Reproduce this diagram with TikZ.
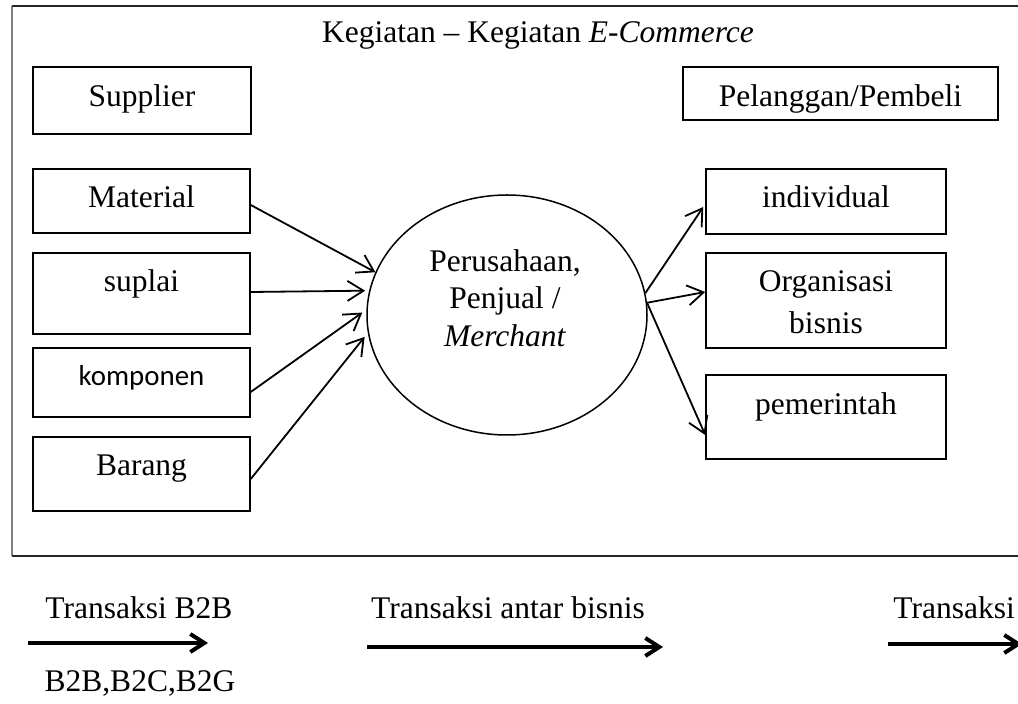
\documentclass[tikz,border=0pt]{standalone}
\usepackage{fontspec}
\setmainfont{Liberation Serif}
\newfontfamily\calibrifont{Carlito}
\usetikzlibrary{arrows.meta,shapes.geometric}
\begin{document}
\begin{tikzpicture}[x=0.5pt,y=-0.5pt,
  txt/.style={font=\fontsize{15.75}{21}\selectfont, inner sep=0pt, anchor=base},
  bx/.style={draw, line width=0.75pt, inner sep=0pt},
  arr/.style={line width=0.9pt, -{Straight Barb[length=8pt,width=10pt]}},
  big/.style={line width=2pt, -{Straight Barb[length=7pt,width=9pt]}}]
\useasboundingbox (0,0) rectangle (1018,704);
\clip (0,0) rectangle (1018,704);
% outer frame
\draw[line width=0.8pt, gray] (12,6) -- (12,556);
\draw[line width=0.8pt, black!85] (12,6) -- (1030,6);
\draw[line width=0.8pt, black!85] (12,556) -- (1030,556);
% title
\node[txt] (title) at (538,43) {Kegiatan -- Kegiatan \textit{E-Commerce}};
% left boxes
\node[bx, minimum width=109pt, minimum height=33.5pt] (sup) at (142,100.5) {};
\node[txt] (supt) at (142,107) {Supplier};
\node[bx, minimum width=108.5pt, minimum height=32pt] (mat) at (141.5,201) {};
\node[txt] (matt) at (141.5,208) {Material};
\node[bx, minimum width=108.5pt, minimum height=40.5pt] (spl) at (141.5,293.5) {};
\node[txt] (splt) at (141.5,292) {suplai};
\node[bx, minimum width=108.5pt, minimum height=34.5pt] (kom) at (141.5,382.5) {};
\node[txt, font=\calibrifont\fontsize{14.45}{17}\selectfont] (komt) at (141.5,386) {komponen};
\node[bx, minimum width=108.5pt, minimum height=37pt] (bar) at (141.5,474) {};
\node[txt] (bart) at (141.5,476) {Barang};
% right boxes
\node[bx, minimum width=157.5pt, minimum height=26.5pt] (pel) at (840.5,93.5) {};
\node[txt] (pelt) at (840.5,107) {Pelanggan/Pembeli};
\node[bx, minimum width=120pt, minimum height=32.5pt] (ind) at (826,201.5) {};
\node[txt] (indt) at (826,208) {individual};
\node[bx, minimum width=120pt, minimum height=47.5pt] (org) at (826,300.5) {};
\node[txt] (orgt1) at (826,292) {Organisasi};
\node[txt] (orgt2) at (826,334) {bisnis};
\node[bx, minimum width=120pt, minimum height=42pt] (pem) at (826,417) {};
\node[txt] (pemt) at (826,415) {pemerintah};
% ellipse
\node[draw, ellipse, line width=0.75pt, minimum width=140pt, minimum height=120pt, inner sep=0pt] (ell) at (507,315) {};
\node[txt] (e1) at (505,272) {Perusahaan,};
\node[txt] (e2) at (505,309) {Penjual /};
\node[txt] (e3) at (505,347) {\textit{Merchant}};
% arrows in
\draw[arr] ([yshift=-2pt]mat.east) -- (ell.162.7);
\draw[arr] ([yshift=0.75pt]spl.east) -- ([xshift=-2pt]ell.170.5);
\draw[arr] ([yshift=-4.75pt]kom.east) -- ([xshift=-2pt]ell.179);
\draw[arr] ([yshift=-2.5pt]bar.east) -- ([xshift=-2pt]ell.189);
% arrows out
\draw[arr] (ell.9.4) -- ([yshift=-2.75pt,xshift=-1pt]ind.west);
\draw[arr] (ell.5) -- ([yshift=4.25pt]org.west);
\draw[arr] (ell.5) -- ([yshift=-9pt]pem.west);
% bottom legend
\node[txt] (t1) at (139,619) {Transaksi B2B};
\coordinate (a1s) at (28,643);
\coordinate (a1e) at (208,643);
\draw[big] (a1s) -- (a1e);
\node[txt] (t1b) at (140,692) {B2B,B2C,B2G};
\node[txt] (t2) at (508,619) {Transaksi antar bisnis};
\coordinate (a2s) at (367,647);
\coordinate (a2e) at (663,647);
\draw[big] (a2s) -- (a2e);
\node[txt, anchor=base west] (t3) at (893,619) {Transaksi};
\coordinate (a3s) at (888,644);
\coordinate (a3e) at (1022,644);
\draw[big] (a3s) -- (a3e);
\end{tikzpicture}
\end{document}
